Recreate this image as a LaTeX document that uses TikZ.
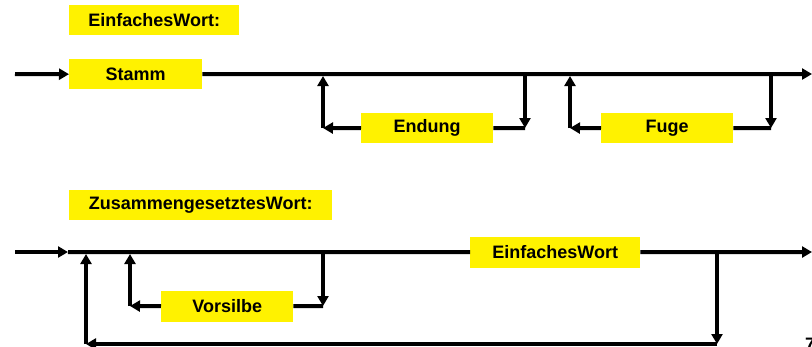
\documentclass[tikz,border=0pt]{standalone}
\usepackage{fontspec}
\setmainfont{Liberation Sans}
\usetikzlibrary{arrows.meta}
\begin{document}
\begin{tikzpicture}[x=1pt,y=-1pt,
  box/.style={fill=yellow, minimum height=30pt, inner sep=0pt, anchor=north west,
    font=\bfseries\fontsize{18}{20}\selectfont},
  ln/.style={line width=4pt, -{Triangle[length=10pt,width=11pt]}},
  plain/.style={line width=4pt}]
\useasboundingbox (0,0) rectangle (812,346);

% ---------- EinfachesWort ----------
\node[box, minimum width=170pt] (t1) at (69,5) {EinfachesWort:};
\coordinate (s1) at (15,74);
\node[box, minimum width=133pt] (stamm) at (69,59) {Stamm};
\coordinate (e1) at (812,74);
\draw[ln] (s1) -- (stamm.west);
\draw[ln] (stamm.east) -- (e1);

% Endung loop
\node[box, minimum width=132pt] (endung) at (361,113) {Endung};
\coordinate (a1) at (525,74);
\coordinate (a2) at (525,128);
\coordinate (a3) at (323,128);
\coordinate (a4) at (323,76);
\draw[ln] (a1) -- (a2);
\draw[plain] (endung.east) -- (a2);
\draw[ln] (endung.west) -- (a3);
\draw[ln] (a3) -- (a4);

% Fuge loop
\node[box, minimum width=132pt] (fuge) at (601,113) {Fuge};
\coordinate (b1) at (771,74);
\coordinate (b2) at (771,128);
\coordinate (b3) at (570,128);
\coordinate (b4) at (570,76);
\draw[ln] (b1) -- (b2);
\draw[plain] (fuge.east) -- (b2);
\draw[ln] (fuge.west) -- (b3);
\draw[ln] (b3) -- (b4);

% ---------- ZusammengesetztesWort ----------
\node[box, minimum width=263pt] (t2) at (69,190) {ZusammengesetztesWort:};
\coordinate (s2) at (15,252);
\coordinate (j0) at (68,252);
\node[box, minimum width=170pt, minimum height=31pt] (ew) at (470,236.5) {EinfachesWort};
\coordinate (e2) at (812,252);
\draw[ln] (s2) -- (j0);
\draw[plain] (j0) -- (ew.west);
\draw[ln] (ew.east) -- (e2);

% Vorsilbe loop
\node[box, minimum width=132pt, minimum height=31pt] (vors) at (161,290.5) {Vorsilbe};
\coordinate (c1) at (323,252);
\coordinate (c2) at (323,306);
\coordinate (c3) at (130,306);
\coordinate (c4) at (130,254);
\draw[ln] (c1) -- (c2);
\draw[plain] (vors.east) -- (c2);
\draw[ln] (vors.west) -- (c3);
\draw[ln] (c3) -- (c4);

% outer loop
\coordinate (d1) at (717,252);
\coordinate (d2) at (717,344);
\coordinate (d3) at (86,344);
\coordinate (d4) at (86,254);
\draw[ln] (d1) -- (d2);
\draw[ln] (d2) -- (d3);
\draw[ln] (d3) -- (d4);

% page number (cut off in the reference as well)
\node[anchor=north west, inner sep=0pt, font=\bfseries\fontsize{18}{20}\selectfont] (pg) at (805,338) {7};
\end{tikzpicture}
\end{document}
